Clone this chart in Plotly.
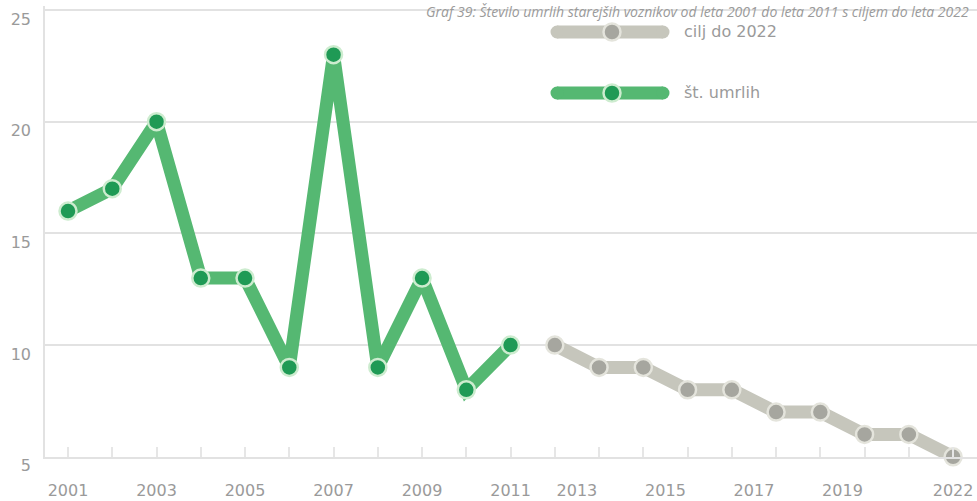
import plotly.graph_objects as go

# Observed deaths of older drivers, 2001-2011
years_observed = [2001, 2002, 2003, 2004, 2005, 2006, 2007, 2008, 2009, 2010, 2011]
deaths = [16, 17, 20, 13, 13, 9, 23, 9, 13, 8, 10]

# Target path towards 2022
target_values = [10, 9, 9, 8, 8, 7, 7, 6, 6, 5]

# Axis labels
x_tick_labels = ["2001", "2003", "2005", "2007", "2009", "2011",
                 "2013", "2015", "2017", "2019", "2022"]
y_tick_values = [5, 10, 15, 20, 25]

series_names = ["cilj do 2022", "št. umrlih"]
title_text = "Graf 39: Število umrlih starejših voznikov od leta 2001 do leta 2011 s ciljem do leta 2022"

GREEN_LINE = "#55b872"
GREEN_MARK = "#1f9a55"
GREEN_EDGE = "#cdeccf"
GREY_LINE = "#c6c6bc"
GREY_MARK = "#a6a69f"
GREY_EDGE = "#e4e4dc"
TEXT = "#9a9a9a"
GRID = "#e2e2e2"
FONT = "DejaVu Sans"

n_obs = len(deaths)
obs_slots = list(range(n_obs))
target_slots = list(range(n_obs, n_obs + len(target_values)))
n_slots = n_obs + len(target_values)

tick_slots = [0, 2, 4, 6, 8, 10, 11.5, 13.5, 15.5, 17.5, 20]

fig = go.Figure()

fig.add_trace(go.Scatter(
    x=target_slots, y=target_values, mode="lines+markers",
    name=series_names[0], hoverinfo="y", cliponaxis=False,
    line=dict(color=GREY_LINE, width=13),
    marker=dict(size=17, color=GREY_MARK, line=dict(color=GREY_EDGE, width=2.5)),
    showlegend=False,
))
fig.add_trace(go.Scatter(
    x=obs_slots, y=deaths, mode="lines+markers",
    name=series_names[1], text=[str(y) for y in years_observed], hoverinfo="text+y",
    cliponaxis=False,
    line=dict(color=GREEN_LINE, width=13),
    marker=dict(size=17, color=GREEN_MARK, line=dict(color=GREEN_EDGE, width=2.5)),
    showlegend=False,
))

L, R, T, B = 45, 0, 6, 44
W, H = 977, 501
pw, ph = W - L - R, H - T - B
Y_RANGE = [4.99, 25.18]


def px_to_paper(px, py):
    return (px - L) / pw, (H - B - py) / ph


shapes = []
# hide upper gridlines behind the legend area
shapes.append(dict(type="rect", xref="x", yref="paper", x0=10.15, x1=n_slots + 1,
                   y0=0.72, y1=1.05, fillcolor="white", line=dict(width=0),
                   layer="between"))

annotations = []
legend_rows = [(32, GREY_LINE, GREY_MARK, GREY_EDGE, series_names[0]),
               (93, GREEN_LINE, GREEN_MARK, GREEN_EDGE, series_names[1])]
for py, lc, mc, ec, label in legend_rows:
    x0, yp = px_to_paper(557, py)
    x1, _ = px_to_paper(663, py)
    xm, _ = px_to_paper(612, py)
    shapes.append(dict(type="line", xref="paper", yref="paper", x0=x0, x1=x1,
                       y0=yp, y1=yp, line=dict(color=lc, width=13)))
    for xe in (x0, x1):
        shapes.append(dict(type="circle", xref="paper", yref="paper",
                           xsizemode="pixel", ysizemode="pixel",
                           xanchor=xe, yanchor=yp, x0=-6.5, x1=6.5, y0=-6.5, y1=6.5,
                           fillcolor=lc, line=dict(width=0)))
    shapes.append(dict(type="circle", xref="paper", yref="paper",
                       xsizemode="pixel", ysizemode="pixel",
                       xanchor=xm, yanchor=yp, x0=-8.5, x1=8.5, y0=-8.5, y1=8.5,
                       fillcolor=mc, line=dict(color=ec, width=2.5)))
    xt, _ = px_to_paper(682, py)
    annotations.append(dict(xref="paper", yref="paper", x=xt, y=yp, text=label,
                            showarrow=False, xanchor="left", yanchor="middle",
                            font=dict(family=FONT, size=16, color=TEXT)))

annotations.append(dict(xref="paper", yref="paper", x=1, y=1, yshift=T, xshift=-6,
                        text=title_text, showarrow=False,
                        xanchor="right", yanchor="top",
                        font=dict(family="Open Sans", size=14, color="#9a9a9a",
                                  style="italic")))

fig.update_layout(
    width=W, height=H,
    margin=dict(l=L, r=R, t=T, b=B, autoexpand=False),
    paper_bgcolor="white", plot_bgcolor="white",
    font=dict(family=FONT, size=16, color=TEXT),
    shapes=shapes, annotations=annotations,
    xaxis=dict(
        range=[-0.52, 20.54], tickmode="array", tickvals=tick_slots,
        ticktext=x_tick_labels, ticks="", showgrid=False, zeroline=False,
        showline=True, linecolor=GRID, linewidth=1.5, automargin=False,
        ticklabelstandoff=18, ticklabeloverflow="allow",
        minor=dict(tickmode="array", tickvals=list(range(n_slots)), ticks="inside",
                   ticklen=10, tickcolor="#e6e6e6", tickwidth=1.5, showgrid=False),
        tickfont=dict(family=FONT, size=16, color=TEXT),
    ),
    yaxis=dict(
        range=Y_RANGE, tickmode="array", tickvals=y_tick_values,
        showgrid=True, gridcolor=GRID, gridwidth=1.5, zeroline=False,
        showline=True, linecolor=GRID, linewidth=1.5, automargin=False,
        ticks="", ticklabelshift=9, ticklabelstandoff=9,
        ticklabeloverflow="allow",
        tickfont=dict(family=FONT, size=16, color=TEXT),
    ),
)

fig.write_html("out.html")
